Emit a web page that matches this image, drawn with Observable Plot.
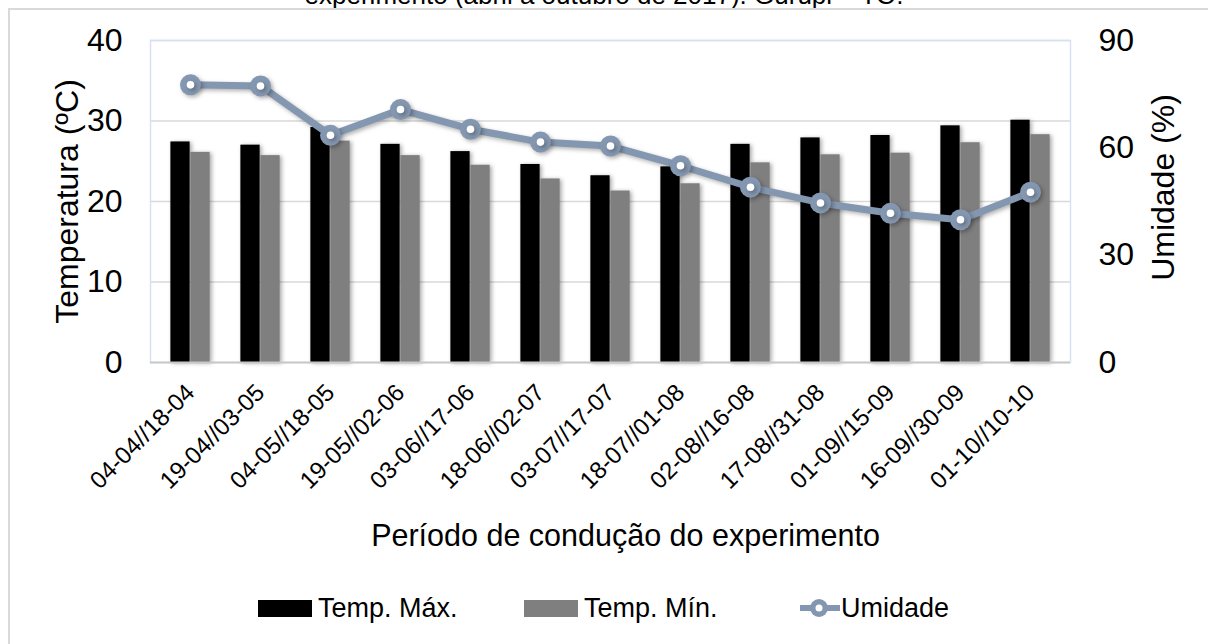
<!DOCTYPE html>
<html><head><meta charset="utf-8">
<script src="https://cdn.jsdelivr.net/npm/d3@7"></script>
<script src="https://cdn.jsdelivr.net/npm/@observablehq/plot@0.6"></script>
<style>
body{margin:0;background:#fff;font-family:"Liberation Sans",Arial,sans-serif;color:#000;}
#wrap{position:relative;width:1208px;height:644px;overflow:hidden;background:#fff;}
#frame{position:absolute;left:8px;top:8px;width:1300px;height:700px;border-top:2px solid #d9d9d9;border-left:2px solid #d9d9d9;}
#title{position:absolute;left:0;top:0;width:1208px;height:8px;overflow:hidden;}
#title div{position:absolute;top:-18px;left:0;width:1208px;text-align:center;font-size:26px;line-height:26px;}
#chart{position:absolute;left:0;top:0;}
#legend{position:absolute;top:590px;left:0;width:1208px;height:36px;font-size:27px;line-height:36px;}
#legend .it{position:absolute;top:0;height:36px;display:flex;align-items:center;}
#legend .sw{width:54px;height:17px;margin-right:6px;}
g[aria-label="bar"]{filter:drop-shadow(2px 1px 2px rgba(0,0,0,0.35));}
g[aria-label="line"],g[aria-label="dot"]{filter:drop-shadow(2px 2px 2px rgba(0,0,0,0.3));}
</style></head>
<body>
<div id="wrap">
  <div id="frame"></div>
  <div id="title"><div>experimento (abril a outubro de 2017). Gurupi – TO.</div></div>
  <div id="chart"></div>
  <div id="legend"></div>
</div>
<script>
const periods = ["04-04//18-04","19-04//03-05","04-05//18-05","19-05//02-06","03-06//17-06","18-06//02-07","03-07//17-07","18-07//01-08","02-08//16-08","17-08//31-08","01-09//15-09","16-09//30-09","01-10//10-10"];
const tempMax = [27.4,27.0,29.2,27.1,26.2,24.6,23.2,24.3,27.1,27.9,28.2,29.4,30.1];
const tempMin = [26.1,25.7,27.5,25.7,24.5,22.8,21.3,22.2,24.8,25.8,26.0,27.3,28.3];
const umidade = [77.6,77.3,63.5,70.7,65.2,61.6,60.5,55.0,49.0,44.6,41.7,39.9,47.6];
const leftTicks = [0,10,20,30,40];
const rightTicks = [0,30,60,90];
const tempMaxY = 40, umidMaxY = 90;

const rows = periods.map((p,i)=>({p, tmax: tempMax[i], tmin: tempMin[i], u: umidade[i]*tempMaxY/umidMaxY}));

const W = 1208, H = 570, mL = 150, mR = 138, mT = 40, mB = 208;
const bw = (W - mL - mR)/periods.length;
const barW = 20;
const lineColor = "#8497b0";
const font = "Liberation Sans, Arial, sans-serif";

const chart = Plot.plot({
  width: W, height: H,
  marginLeft: mL, marginRight: mR, marginTop: mT, marginBottom: mB,
  style: {fontFamily: font, color: "#000", background: "transparent", overflow: "visible"},
  x: {type: "band", domain: periods, padding: 0, axis: null},
  y: {domain: [0, tempMaxY], axis: null},
  marks: [
    Plot.ruleY(leftTicks.filter(d=>d>0), {stroke: "#d9d9d9", strokeWidth: 1.5}),
    Plot.frame({stroke: "#d6e2f3", strokeWidth: 1.5}),
    Plot.barY(rows, {x: "p", y: "tmax", fill: "#000000", insetLeft: bw/2 - barW, insetRight: bw/2}),
    Plot.barY(rows, {x: "p", y: "tmin", fill: "#7f7f7f", insetLeft: bw/2, insetRight: bw/2 - barW}),
    Plot.ruleY([0], {stroke: "#c8c8c8", strokeWidth: 2}),
    Plot.line(rows, {x: "p", y: "u", stroke: lineColor, strokeWidth: 7}),
    Plot.dot(rows, {x: "p", y: "u", r: 10.5, fill: lineColor, stroke: "none"}),
    Plot.dot(rows, {x: "p", y: "u", r: 3.8, fill: "#ffffff", stroke: "none", ariaLabel: "dotin"}),
    Plot.axisY(leftTicks, {anchor: "left", tickSize: 0, tickPadding: 28, fontSize: 32, label: null}),
    Plot.axisY(rightTicks.map(v=>v*tempMaxY/umidMaxY), {anchor: "right", tickSize: 0, tickPadding: 28, fontSize: 32, label: null, tickFormat: d => String(Math.round(d*umidMaxY/tempMaxY))}),
    Plot.axisX({tickRotate: -45, tickSize: 0, tickPadding: 26, fontSize: 24, label: null}),
    Plot.text(["Temperatura (ºC)"], {text: d=>d, frameAnchor: "left", textAnchor: "middle", dx: -83, rotate: -90, fontSize: 32, ariaLabel: "ytitle"}),
    Plot.text(["Umidade (%)"], {text: d=>d, frameAnchor: "right", textAnchor: "middle", dx: 93, dy: -14, rotate: -90, fontSize: 32, ariaLabel: "y2title"}),
    Plot.text(["Período de condução do experimento"], {text: d=>d, frameAnchor: "bottom", dx: 15, dy: 183, fontSize: 30.5, ariaLabel: "xtitle"})
  ]
});
document.getElementById("chart").appendChild(chart);

// stretch the rotated axis titles along their length as in the reference
d3.select(chart).select('g[aria-label="ytitle"] text').attr("textLength", 300).attr("lengthAdjust", "spacingAndGlyphs");
d3.select(chart).select('g[aria-label="y2title"] text').attr("textLength", 224).attr("lengthAdjust", "spacingAndGlyphs");

// legend
const legend = document.getElementById("legend");
const items = [
  {label: "Temp. Máx.", color: "#000000", kind: "bar", left: 258},
  {label: "Temp. Mín.", color: "#7f7f7f", kind: "bar", left: 524},
  {label: "Umidade", color: lineColor, kind: "line", left: 800}
];
for (const it of items) {
  const d = document.createElement("div");
  d.className = "it";
  d.style.left = it.left + "px";
  if (it.kind === "bar") {
    d.innerHTML = `<div class="sw" style="background:${it.color}"></div><span>${it.label}</span>`;
  } else {
    d.innerHTML = `<svg width="40" height="24" style="margin-right:1px"><line x1="0" y1="12" x2="40" y2="12" stroke="${it.color}" stroke-width="6"/><circle cx="19" cy="12" r="9" fill="${it.color}"/><circle cx="19" cy="12" r="3.5" fill="#fff"/></svg><span>${it.label}</span>`;
  }
  legend.appendChild(d);
}
</script>
</body></html>
